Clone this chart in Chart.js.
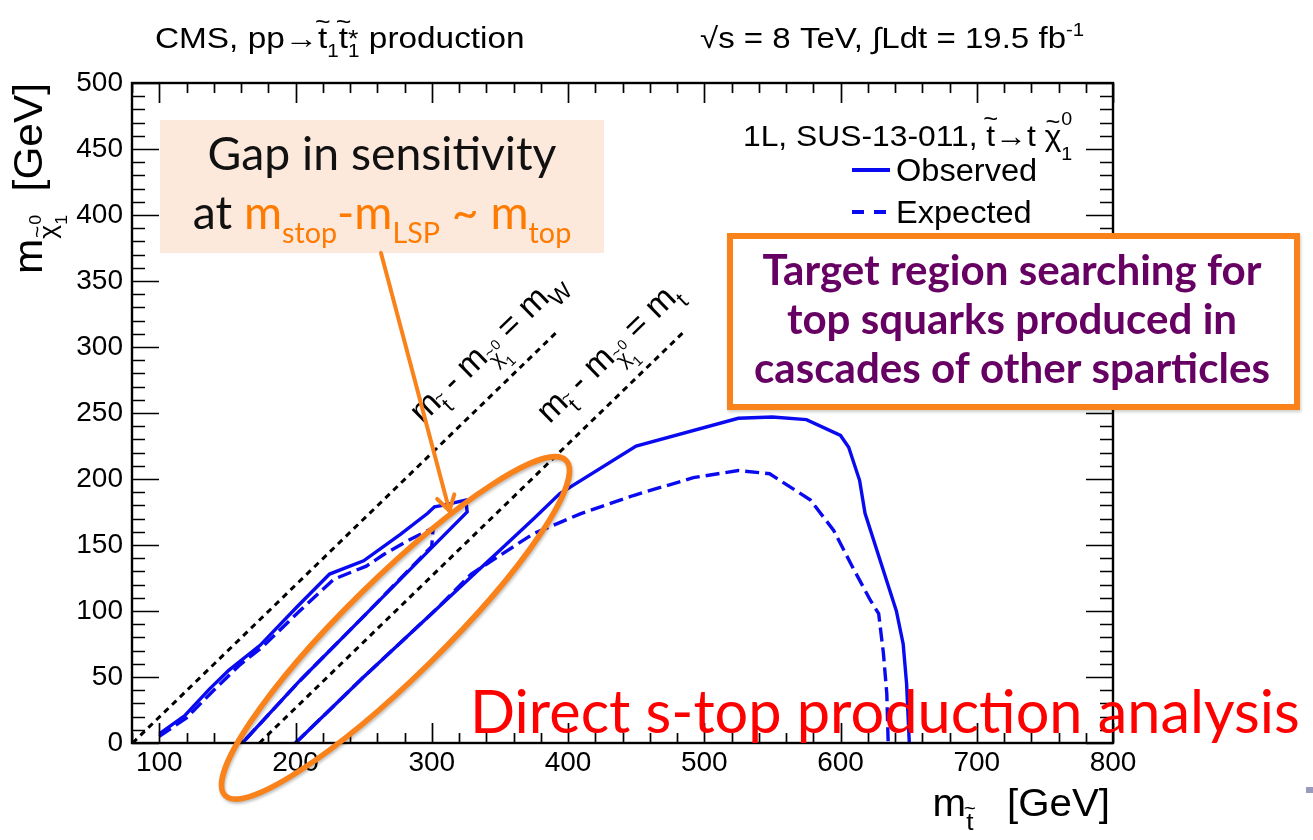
<!DOCTYPE html>
<html>
<head>
<meta charset="utf-8">
<script src="https://cdn.jsdelivr.net/npm/chart.js@4.4.1/dist/chart.umd.min.js"></script>
<style>
  html, body { margin: 0; padding: 0; background: #fff; overflow: hidden; }
  canvas { display: block; }
</style>
</head>
<body>
<canvas id="c" width="1313" height="840" style="width:1313px;height:840px"></canvas>
<script>
// Exclusion contours in the (m_stop, m_LSP) plane, values in GeV.
const xTickValues = [100, 200, 300, 400, 500, 600, 700, 800];
const yTickValues = [0, 50, 100, 150, 200, 250, 300, 350, 400, 450, 500];

// compressed-spectrum island close to the m_W diagonal
const observedLow = [[100,7],[119,21],[137,41],[151,55],[174,74],[201,103],[225,128],[250,138],
  [277,158],[297,174],[302,179],[308,180],[325,184],[326,175],[300,148],[252,98],[203,47],[161,0]];
const expectedLow = [[100,5],[120,19],[140,40],[159,59],[176,73],[203,100],[228,124],[252,134],
  [265,143],[282,153],[301,163],[300,149],[252,98],[203,47],[161,0]];

// main excluded region
const observedHigh = [[200,0],[250,50],[301,99],[329,126],[350,146],[375,170],[394,189],[450,225],
  [525,246],[550,247],[575,245],[600,233],[606,224],[614,199],[618,174],[641,100],[646,75],[648.5,45],[650.5,0]];
const expectedHigh = [[200,0],[250,50],[301,99],[329,128],[374.5,158.5],[409,173.6],[448,187.5],[492,201],
  [525,206.4],[548,204],[578,184],[595,161],[609,133],[622,108],[628,98],[631.5,68],[634,37],[635,0]];

// kinematic boundaries m_stop - m_LSP = m_W and = m_top
const diagW = [[80.4,0],[393.4,313]];
const diagTop = [[173.5,0],[486.5,313]];

const ROOTFONT = "'Liberation Sans', Arial, Helvetica, sans-serif";
const SLIDEFONT = "Lato, 'Open Sans', sans-serif";
const BLUE = '#0a0af0';
const ORANGE = '#f9821a';

const toXY = arr => arr.map(([x, y]) => ({ x, y }));

// ---- text helpers: runs with sub/superscripts and tildes ----
function layoutRich(ctx, parts, base, family, weight) {
  let cx = 0, pending = 0;
  const items = [];
  for (const p of parts) {
    const size = base * (p.s || 1);
    ctx.font = `${weight || ''} ${size}px ${family}`;
    const w = ctx.measureText(p.t).width;
    items.push({ p, x: cx, size, w });
    if (p.stack) { pending = Math.max(pending, w); }
    else { cx += Math.max(w, pending); pending = 0; }
  }
  return { items, width: cx + pending };
}
function drawRich(ctx, parts, x, y, base, opts) {
  const o = Object.assign({ family: ROOTFONT, weight: '', align: 'left', color: '#000', sx: 1 }, opts || {});
  const { items, width } = layoutRich(ctx, parts, base, o.family, o.weight);
  const w = width * o.sx;
  const x0 = o.align === 'right' ? x - w : o.align === 'center' ? x - w / 2 : x;
  ctx.save();
  ctx.translate(x0, y);
  ctx.scale(o.sx, 1);
  ctx.textAlign = 'left';
  ctx.textBaseline = 'alphabetic';
  for (const it of items) {
    const gy = (it.p.dy || 0) * base;
    ctx.font = `${o.weight} ${it.size}px ${o.family}`;
    ctx.fillStyle = it.p.c || o.color;
    ctx.fillText(it.p.t, it.x, gy);
    if (it.p.tilde) {
      const ts = it.size * 0.8;
      ctx.font = `${ts}px ${o.family}`;
      const tw = ctx.measureText('~').width;
      ctx.fillText('~', it.x + it.w / 2 - tw / 2, gy - it.size * (it.p.tildeUp || 0.62));
    }
  }
  ctx.restore();
  return w;
}
function fitSize(ctx, text, family, weight, target) {
  ctx.font = `${weight} 100px ${family}`;
  return 100 * target / ctx.measureText(text).width;
}

// ---- ROOT style frame with inward ticks on all four sides ----
const framePlugin = {
  id: 'rootFrame',
  afterDatasetsDraw(chart) {
    const { ctx, chartArea: a, scales: { x, y } } = chart;
    ctx.save();
    ctx.strokeStyle = '#000';
    ctx.lineWidth = 1.7;
    ctx.beginPath();
    for (let v = x.min; v <= x.max + 1e-6; v += 20) {
      const px = Math.round(x.getPixelForValue(v)) + 0.5;
      const len = v % 100 === 0 ? 20 : 10;
      ctx.moveTo(px, a.bottom); ctx.lineTo(px, a.bottom - len);
      ctx.moveTo(px, a.top); ctx.lineTo(px, a.top + len);
    }
    for (let v = y.min; v <= y.max + 1e-6; v += 10) {
      const py = Math.round(y.getPixelForValue(v)) + 0.5;
      const len = v % 50 === 0 ? 27 : 13;
      ctx.moveTo(a.left, py); ctx.lineTo(a.left + len, py);
      ctx.moveTo(a.right, py); ctx.lineTo(a.right - len, py);
    }
    ctx.stroke();
    ctx.lineWidth = 2.4;
    ctx.strokeRect(a.left, a.top, a.right - a.left, a.bottom - a.top);
    ctx.restore();
  }
};

// ---- labels, legend and slide annotations ----
const annotatePlugin = {
  id: 'annotate',
  afterDraw(chart) {
    const { ctx, scales: { x, y } } = chart;
    const P = (vx, vy) => ({ x: x.getPixelForValue(vx), y: y.getPixelForValue(vy) });
    ctx.save();

    // header
    drawRich(ctx, [
      { t: 'CMS, pp\u2192' }, { t: 't', tilde: true }, { t: '1', s: .62, dy: .3 },
      { t: 't', tilde: true }, { t: '1', s: .62, dy: .3, stack: true }, { t: '*', s: .8, dy: -.05 },
      { t: ' production' }
    ], 155, 48, 29, { sx: 1.15 });
    drawRich(ctx, [
      { t: '\u221As = 8 TeV, \u222BLdt = 19.5 fb' }, { t: '-1', s: .62, dy: -.42 }
    ], 700, 48, 29, { sx: 1.14 });

    // axis titles
    drawRich(ctx, [{ t: 'm' }, { t: 't', s: .65, dy: .38, tilde: true }, { t: '   [GeV]' }],
      1110, 816, 38, { align: 'right', sx: 1.06 });
    ctx.save();
    ctx.translate(42, 83);
    ctx.rotate(-Math.PI / 2);
    drawRich(ctx, [{ t: 'm' }, { t: '\u03C7', s: .62, dy: .36, tilde: true, tildeUp: .52 },
      { t: '0', s: .42, dy: -.02, stack: true }, { t: '1', s: .42, dy: .62 }, { t: '  [GeV]' }],
      0, 0, 40, { align: 'right', sx: 1.06 });
    ctx.restore();

    // labels along the kinematic diagonals
    const diagLabel = (line, sub) => {
      const p0 = P(line[0][0], line[0][1]), p1 = P(line[1][0], line[1][1]);
      const ang = Math.atan2(p1.y - p0.y, p1.x - p0.x);
      const ux = Math.cos(ang), uy = Math.sin(ang);
      const along = 430, perp = 27;
      ctx.save();
      ctx.translate(p0.x + ux * along + uy * perp, p0.y + uy * along - ux * perp);
      ctx.rotate(ang);
      drawRich(ctx, [{ t: 'm' }, { t: 't', s: .65, dy: .32, tilde: true },
        { t: ' - m' }, { t: '\u03C7', s: .6, dy: .32, tilde: true, tildeUp: .52 },
        { t: '0', s: .42, dy: -.05, stack: true }, { t: '1', s: .42, dy: .6 },
        { t: ' = m' }, { t: sub, s: .68, dy: .3 }], 0, 0, 34);
      ctx.restore();
    };
    diagLabel(diagW, 'W');
    diagLabel(diagTop, 't');

    // legend
    drawRich(ctx, [{ t: '1L, SUS-13-011, ' }, { t: 't', tilde: true }, { t: '\u2192t ' },
      { t: '\u03C7', tilde: true, tildeUp: .55 }, { t: '0', s: .62, dy: -.7, stack: true }, { t: '1', s: .62, dy: .45 }],
      743, 146, 30, { sx: 1.06 });
    ctx.lineWidth = 3.8;
    ctx.strokeStyle = BLUE;
    ctx.beginPath(); ctx.moveTo(852, 170); ctx.lineTo(890, 170); ctx.stroke();
    ctx.setLineDash([12, 10]);
    ctx.beginPath(); ctx.moveTo(852, 212); ctx.lineTo(886, 212); ctx.stroke();
    ctx.setLineDash([]);
    drawRich(ctx, [{ t: 'Observed' }], 896, 181, 31, { sx: 1.05 });
    drawRich(ctx, [{ t: 'Expected' }], 896, 223, 31, { sx: 1.05 });

    // gap note
    ctx.fillStyle = '#fce9dc';
    ctx.fillRect(160, 120, 444, 133);
    const g = fitSize(ctx, 'Gap in sensitivity', SLIDEFONT, '', 349);
    drawRich(ctx, [{ t: 'Gap in sensitivity' }], 382, 170, g, { family: SLIDEFONT, align: 'center', color: '#111' });
    drawRich(ctx, [{ t: 'at ', c: '#111' }, { t: 'm' }, { t: 'stop', s: .62, dy: .3 }, { t: '-m' },
      { t: 'LSP', s: .62, dy: .3 }, { t: ' ~ m' }, { t: 'top', s: .62, dy: .3 }],
      382, 229, g, { family: SLIDEFONT, align: 'center', color: '#ff7a00' });

    // arrow from the note to the gap
    const tip = P(313, 176);
    const st = { x: 381, y: 253 };
    const aa = Math.atan2(tip.y - st.y, tip.x - st.x);
    ctx.strokeStyle = ORANGE;
    ctx.lineWidth = 4;
    ctx.lineCap = 'round';
    ctx.beginPath(); ctx.moveTo(st.x, st.y); ctx.lineTo(tip.x, tip.y); ctx.stroke();
    ctx.beginPath();
    ctx.moveTo(tip.x - 17 * Math.cos(aa - 0.55), tip.y - 17 * Math.sin(aa - 0.55));
    ctx.lineTo(tip.x, tip.y);
    ctx.lineTo(tip.x - 17 * Math.cos(aa + 0.55), tip.y - 17 * Math.sin(aa + 0.55));
    ctx.stroke();

    // ellipse around the compressed region
    const ec = P(273.4, 87.2);
    ctx.save();
    ctx.shadowColor = 'rgba(0,0,0,0.25)';
    ctx.shadowBlur = 3; ctx.shadowOffsetX = 1; ctx.shadowOffsetY = 2;
    ctx.lineWidth = 5.5;
    ctx.beginPath();
    ctx.ellipse(ec.x, ec.y, 239, 49, -44.5 * Math.PI / 180, 0, Math.PI * 2);
    ctx.stroke();
    ctx.restore();

    // target region box
    ctx.save();
    ctx.shadowColor = 'rgba(0,0,0,0.2)';
    ctx.shadowBlur = 3; ctx.shadowOffsetX = 1; ctx.shadowOffsetY = 2;
    ctx.fillStyle = '#fff';
    ctx.fillRect(727, 233, 573, 177);
    ctx.restore();
    ctx.strokeStyle = ORANGE;
    ctx.lineWidth = 6;
    ctx.strokeRect(730, 236, 567, 171);
    const b = fitSize(ctx, 'cascades of other sparticles', SLIDEFONT, 'bold', 516);
    ['Target region searching for', 'top squarks produced in', 'cascades of other sparticles']
      .forEach((t, i) => drawRich(ctx, [{ t }], 1012, 285 + i * 49, b,
        { family: SLIDEFONT, weight: 'bold', align: 'center', color: '#660062' }));

    // analysis caption
    const r = fitSize(ctx, 'Direct s-top production analysis', SLIDEFONT, '', 830);
    drawRich(ctx, [{ t: 'Direct s-top production analysis' }], 470, 733, r,
      { family: SLIDEFONT, align: 'left', color: '#ff0000' });

    // slide corner mark
    ctx.fillStyle = '#9a9abd';
    ctx.fillRect(1306, 787, 7, 6);
    ctx.restore();
  }
};

const line = (data, color, width, dash) => ({
  data: toXY(data), showLine: true, borderColor: color, borderWidth: width,
  borderDash: dash, pointRadius: 0, fill: false, tension: 0
});

new Chart(document.getElementById('c'), {
  type: 'scatter',
  data: {
    datasets: [
      line(diagW, '#000', 3, [6, 5]),
      line(diagTop, '#000', 3, [6, 5]),
      line(expectedLow, BLUE, 3.4, [14, 6]),
      line(expectedHigh, BLUE, 3.4, [14, 6]),
      line(observedLow, BLUE, 3.4, []),
      line(observedHigh, BLUE, 3.4, [])
    ]
  },
  options: {
    responsive: false,
    animation: false,
    events: [],
    layout: { padding: { left: 0, right: 200, top: 83, bottom: 57 } },
    plugins: { legend: { display: false }, tooltip: { enabled: false } },
    scales: {
      x: {
        type: 'linear', min: 80, max: 800,
        afterBuildTicks: s => { s.ticks = xTickValues.map(v => ({ value: v })); },
        afterFit: s => { s.height = 40; },
        grid: { display: false, drawTicks: false },
        border: { display: false },
        ticks: { color: '#000', font: { family: ROOTFONT, size: 28 }, padding: 3, maxRotation: 0, autoSkip: false }
      },
      y: {
        type: 'linear', min: 0, max: 500,
        afterBuildTicks: s => { s.ticks = yTickValues.map(v => ({ value: v })); },
        afterFit: s => { s.width = 132; },
        grid: { display: false, drawTicks: false },
        border: { display: false },
        ticks: { color: '#000', font: { family: ROOTFONT, size: 28 }, padding: 9, autoSkip: false }
      }
    }
  },
  plugins: [framePlugin, annotatePlugin]
});
</script>
</body>
</html>
